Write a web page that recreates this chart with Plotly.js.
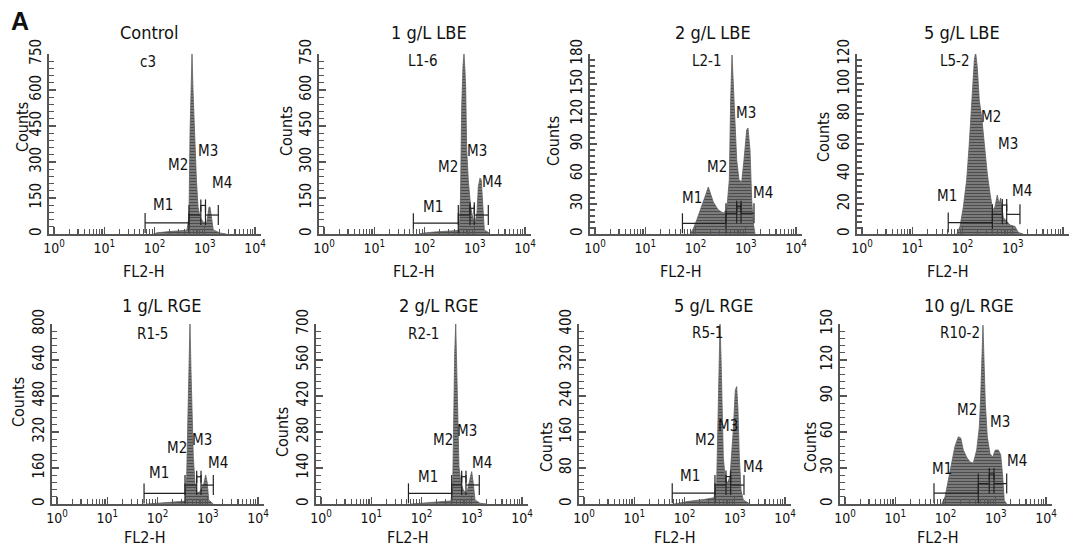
<!DOCTYPE html>
<html><head><meta charset="utf-8">
<script src="https://cdn.plot.ly/plotly-3.0.1.min.js"></script>
<style>html,body{margin:0;padding:0;background:#fff;} #chart{width:1073px;height:548px;}</style>
</head><body><div id="chart"></div>
<script>
// ---- data (FL2-H channel value, counts) ----
const ctrlX = [95, 112, 194, 307, 404, 443, 486, 509, 533, 558, 584, 611, 640, 683, 736, 805, 923, 1094, 1160, 1216, 1273, 1393, 1479, 2013, 2700];
const ctrlY = [0, 5, 10, 12, 15, 17, 72, 420, 662, 750, 600, 450, 379, 225, 112, 71, 50, 46, 100, 112, 112, 58, 17, 4, 0];
const lbe1X = [78, 98, 154, 245, 386, 493, 520, 550, 584, 611, 640, 661, 692, 744, 830, 936, 1012, 1109, 1177, 1273, 1350, 1440, 1550, 2013];
const lbe1Y = [0, 4, 8, 10, 12, 15, 150, 530, 700, 750, 680, 608, 350, 225, 112, 58, 46, 90, 196, 233, 225, 142, 17, 2];
const lbe2X = [78, 90, 106, 133, 154, 180, 226, 284, 357, 418, 471, 501, 533, 565, 611, 661, 735, 830, 923, 1045, 1109, 1216, 1315, 1414, 1528];
const lbe2Y = [0, 5, 14, 27, 37, 47, 32, 24, 21, 24, 54, 134, 179, 151, 107, 74, 54, 52, 74, 104, 106, 84, 34, 11, 0];
const lbe5X = [77, 89, 104, 121, 135, 148, 160, 172, 183, 197, 216, 241, 272, 312, 353, 399, 443, 493, 533, 575, 649, 881, 1109, 1291, 1622];
const lbe5Y = [0, 5, 18, 36, 58, 83, 100, 116, 121, 111, 89, 78, 60, 40, 27, 16, 18, 26, 20, 24, 11, 6, 5, 1, 0];
const rge1X = [62, 123, 245, 337, 357, 381, 404, 424, 443, 464, 486, 516, 557, 620, 701, 758, 842, 910, 980, 1045, 1291];
const rge1Y = [0, 5, 8, 12, 18, 121, 400, 670, 800, 596, 373, 210, 93, 48, 55, 70, 93, 129, 93, 18, 0];
const rge2X = [62, 123, 245, 386, 418, 437, 458, 480, 502, 525, 557, 611, 679, 794, 894, 998, 1074, 1161, 1460, 1986];
const rge2Y = [0, 5, 8, 12, 67, 366, 586, 700, 521, 288, 145, 80, 54, 41, 80, 126, 80, 16, 3, 0];
const rge5X = [62, 123, 245, 386, 437, 464, 486, 509, 533, 557, 592, 640, 711, 805, 936, 1026, 1094, 1161, 1233, 1332, 1479, 2013];
const rge5Y = [0, 6, 10, 14, 46, 224, 335, 400, 327, 209, 105, 61, 46, 61, 164, 253, 261, 209, 105, 31, 9, 0];
const rge10X = [84, 98, 114, 133, 154, 180, 201, 226, 264, 307, 357, 418, 471, 501, 533, 557, 584, 620, 679, 768, 869, 980, 1125, 1256, 1375, 1479, 1652];
const rge10Y = [0, 6, 20, 34, 48, 56, 55, 45, 39, 35, 34, 45, 64, 89, 128, 149, 120, 84, 56, 42, 39, 45, 45, 41, 23, 3, 0];

// marker gates M1..M4: [start, end, level]
const ctrlGates = [[65, 486, 46], [486, 836, 79], [836, 1035, 119], [1035, 1862, 79]];
const lbe1Gates = [[60, 471, 45], [471, 805, 79], [805, 980, 107], [980, 1862, 79]];
const lbe2Gates = [[55, 404, 10.7], [404, 661, 20.7], [661, 805, 27.3], [805, 1460, 20.7]];
const lbe5Gates = [[52, 393, 7.6], [393, 620, 13.1], [620, 758, 19.3], [758, 1393, 13.1]];
const rge1Gates = [[54, 353, 47], [353, 603, 84], [603, 735, 121], [735, 1291, 84]];
const rge2Gates = [[55, 399, 41.5], [399, 631, 74], [631, 768, 106], [768, 1414, 74]];
const rge5Gates = [[57, 404, 24], [404, 670, 42], [670, 830, 61], [830, 1528, 42]];
const rge10Gates = [[59, 450, 9], [450, 744, 17], [744, 923, 25], [923, 1652, 17]];

const titles = ['Control', '1 g/L LBE', '2 g/L LBE', '5 g/L LBE', '1 g/L RGE', '2 g/L RGE', '5 g/L RGE', '10 g/L RGE'];
const sampleIds = ['c3', 'L1-6', 'L2-1', 'L5-2', 'R1-5', 'R2-1', 'R5-1', 'R10-2'];
const yMax = [750, 750, 180, 120, 800, 700, 400, 150];
const yStep = [150, 150, 30, 20, 160, 140, 80, 30];
const markerNames = ['M1', 'M2', 'M3', 'M4'];
const xTickVals = [1, 10, 100, 1000, 10000];
const xTickText = ['10<sup>0</sup>', '10<sup>1</sup>', '10<sup>2</sup>', '10<sup>3</sup>', '10<sup>4</sup>'];

const seriesX = [ctrlX, lbe1X, lbe2X, lbe5X, rge1X, rge2X, rge5X, rge10X];
const seriesY = [ctrlY, lbe1Y, lbe2Y, lbe5Y, rge1Y, rge2Y, rge5Y, rge10Y];
const gates = [ctrlGates, lbe1Gates, lbe2Gates, lbe5Gates, rge1Gates, rge2Gates, rge5Gates, rge10Gates];

// ---- layout geometry (pixels) ----
const W = 1073, H = 548;
const PW = 212, PH = 180;
const geo = [
  {L: 49, B: 234, title: [149, 32], id: [148, 62], counts: [23, 127], fl: [143, 271], m: [[163,205],[178,165],[208,151],[222,183]]},
  {L: 319, B: 234, title: [429, 32], id: [423, 61], counts: [287, 131], fl: [413, 271], m: [[433,207],[448,167],[477,151],[492,182]]},
  {L: 590, B: 234, title: [713, 32], id: [707, 61], counts: [553, 141], fl: [680, 271], m: [[692,198],[717,167],[746,113],[763,193]]},
  {L: 857, B: 234, title: [962, 32], id: [955, 61], counts: [823, 137], fl: [947, 271], m: [[947,196],[991,117],[1008,144],[1022,191]]},
  {L: 52, B: 504, title: [161, 305], id: [152, 334], counts: [18, 402], fl: [144, 537], m: [[159,473],[177,448],[202,440],[218,463]]},
  {L: 316, B: 504, title: [438, 305], id: [423, 334], counts: [282, 432], fl: [407, 537], m: [[428,477],[443,440],[467,431],[482,463]]},
  {L: 579, B: 504, title: [713, 305], id: [707, 333], counts: [546, 447], fl: [674, 537], m: [[690,476],[705,440],[728,426],[753,467]]},
  {L: 840, B: 504, title: [969, 305], id: [960, 333], counts: [810, 447], fl: [937, 537], m: [[942,469],[967,410],[1000,422],[1017,461]]}
];
const FONT = '"DejaVu Sans Condensed", "DejaVu Sans", sans-serif';
const px = x => x / W;
const py = y => 1 - y / H;

const minorX = [];
[1, 10, 100, 1000].forEach(d => { for (let k = 2; k <= 9; k++) minorX.push(k * d); });

const traces = [];
const layout = {
  width: W, height: H, margin: {l: 0, r: 0, t: 0, b: 0},
  paper_bgcolor: '#fff', plot_bgcolor: 'rgba(0,0,0,0)',
  showlegend: false, font: {family: FONT, color: '#111'},
  annotations: []
};

for (let i = 0; i < 8; i++) {
  const g = geo[i];
  const sfx = i === 0 ? '' : String(i + 1);
  const xa = 'x' + sfx, ya = 'y' + sfx;
  traces.push({
    type: 'scatter', mode: 'lines', x: seriesX[i], y: seriesY[i],
    xaxis: xa, yaxis: ya, fill: 'tozeroy',
    fillcolor: '#727272',
    fillpattern: {shape: '-', fgcolor: '#4c4c4c', bgcolor: '#858585', size: 3, solidity: 0.45},
    line: {color: '#5e5e5e', width: 0.8}, hoverinfo: 'skip'
  });
  const gx = [], gy = [];
  gates[i].forEach((gt, j) => {
    const h = yMax[i] * (j === 2 ? 6 : 10) / PH;
    gx.push(gt[0], gt[0], null, gt[0], gt[1], null, gt[1], gt[1], null);
    gy.push(gt[2] - h, gt[2] + h, null, gt[2], gt[2], null, gt[2] - h, gt[2] + h, null);
  });
  traces.push({type: 'scatter', mode: 'lines', x: gx, y: gy, xaxis: xa, yaxis: ya,
    line: {color: '#222', width: 1.2}, hoverinfo: 'skip', connectgaps: false});

  layout['xaxis' + sfx] = {
    type: 'log', range: [-0.1, 4.12], domain: [px(g.L), px(g.L + PW)], anchor: ya,
    tickmode: 'array', tickvals: xTickVals, ticktext: xTickText,
    ticks: 'inside', ticklen: 7, tickwidth: 1.2, tickcolor: '#555',
    minor: {tickmode: 'array', tickvals: minorX, ticks: 'inside', ticklen: 5, tickwidth: 1.1, tickcolor: '#555', showgrid: false},
    showline: true, linecolor: '#555', linewidth: 2, showgrid: false, zeroline: false,
    tickfont: {family: FONT, size: 14, color: '#111'}, fixedrange: true
  };
  layout['yaxis' + sfx] = {
    range: [0, yMax[i]], domain: [py(g.B), py(g.B - PH)], anchor: xa,
    tickmode: 'linear', tick0: 0, dtick: yStep[i], tickangle: -90,
    ticks: 'inside', ticklen: 7, tickwidth: 1.2, tickcolor: '#555',
    minor: {dtick: yStep[i] / 5, ticks: 'inside', ticklen: 5, tickwidth: 1.1, tickcolor: '#555', showgrid: false},
    showline: true, linecolor: '#555', linewidth: 2, showgrid: false, zeroline: false,
    tickfont: {family: FONT, size: 15, color: '#111'}, fixedrange: true
  };
  const ann = (pos, text, size, extra) => layout.annotations.push(Object.assign({
    x: px(pos[0]), y: py(pos[1]), xref: 'paper', yref: 'paper', text: text, showarrow: false,
    xanchor: 'center', yanchor: 'middle', font: {family: FONT, size: size, color: '#111'}
  }, extra || {}));
  ann(g.title, titles[i], 18);
  ann(g.id, sampleIds[i], 15);
  ann(g.counts, 'Counts', 16, {textangle: -90});
  ann(g.fl, 'FL2-H', 16);
  g.m.forEach((mp, j) => ann(mp, markerNames[j], 15));
}
layout.annotations.push({x: px(20), y: py(21), xref: 'paper', yref: 'paper', text: '<b>A</b>', showarrow: false,
  xanchor: 'center', yanchor: 'middle', font: {family: '"Liberation Sans", Arial, sans-serif', size: 25, color: '#111'}});

Plotly.newPlot('chart', traces, layout, {displayModeBar: false, staticPlot: true});
</script>
</body></html>
